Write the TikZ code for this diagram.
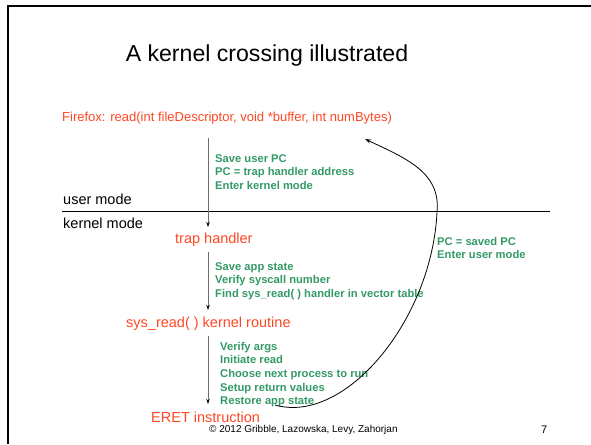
\documentclass[tikz,border=0pt]{standalone}
\usepackage{fontspec}
\setmainfont{Liberation Sans}
\usetikzlibrary{arrows.meta}
\definecolor{hred}{RGB}{255,70,35}
\definecolor{hgreen}{RGB}{51,153,102}
\definecolor{agray}{RGB}{110,110,110}
\newcommand{\glines}[1]{\begin{tabular}[t]{@{}l@{}}#1\end{tabular}}
\tikzset{
  redlbl/.style={anchor=base west, inner sep=0pt, text=hred, font=\fontsize{14.5}{16}\selectfont},
  blklbl/.style={anchor=base west, inner sep=0pt, text=black, font=\fontsize{14.5}{16}\selectfont},
  grnlbl/.style={anchor=base west, inner sep=0pt, text=hgreen, font=\bfseries\fontsize{11.2}{13.7}\selectfont},
  flow/.style={draw=agray, line width=0.9pt, -{Stealth[length=5pt,width=3.5pt,color=black]}},
}
\begin{document}
\begin{tikzpicture}[x=1pt,y=-1pt]
\useasboundingbox (0,0) rectangle (591,444);
% frame
\draw[line width=2.5pt] (8,444) -- (8,6) -- (591,6);
% title
\node[anchor=base, inner sep=0pt, font=\fontsize{23.1}{26}\selectfont] (title) at (267,62) {A kernel crossing illustrated};
% labels
\node[redlbl, font=\fontsize{13}{15}\selectfont] (ff) at (62,121) {Firefox: read(int fileDescriptor, void *buffer, int numBytes)};
\node[blklbl] (um) at (63,204) {user mode};
\node[blklbl] (km) at (63,228) {kernel mode};
\coordinate (ll) at (62,211.5);
\coordinate (lr) at (550,211.5);
\draw[line width=1.8pt] (ll) -- (lr);
\node[redlbl] (th) at (175,243) {trap handler};
\node[redlbl] (sr) at (126,327) {sys\_read( ) kernel routine};
\node[redlbl] (er) at (151,422) {ERET instruction};
% arrows
\coordinate (a1s) at (208,138);
\coordinate (a1e) at (208,227);
\coordinate (a2s) at (208,252);
\coordinate (a2e) at (208,310);
\coordinate (a3s) at (208,336);
\coordinate (a3e) at (208,404);
\draw[flow] (a1s) -- (a1e);
\draw[flow] (a2s) -- (a2e);
\draw[flow] (a3s) -- (a3e);
% green notes
\node[grnlbl] (g1) at (215,162) {\glines{Save user PC\\PC = trap handler address\\Enter kernel mode}};
\node[grnlbl] (g2) at (215,270) {\glines{Save app state\\Verify syscall number\\Find sys\_read( ) handler in vector table}};
\node[grnlbl] (g3) at (220,350) {\glines{Verify args\\Initiate read\\Choose next process to run\\Setup return values\\Restore app state}};
\node[grnlbl] (g4) at (437,245) {\glines{PC = saved PC\\Enter user mode}};
% return curve
\coordinate (rs) at (275,405);
\coordinate (rm) at (437,212);
\coordinate (rt) at (365,139);
\draw[line width=0.8pt, -{Stealth[length=6pt,width=4pt]}] (rs) .. controls (345,425) and (432,320) .. (rm) .. controls (441,172) and (405,158) .. (rt);
% footer
\node[anchor=base west, inner sep=0pt, font=\fontsize{10}{12}\selectfont] (cr) at (209,432) {\textcopyright{} 2012 Gribble, Lazowska, Levy, Zahorjan};
\node[anchor=base west, inner sep=0pt, font=\fontsize{11}{12}\selectfont] (pg) at (541,433) {7};
\end{tikzpicture}
\end{document}
